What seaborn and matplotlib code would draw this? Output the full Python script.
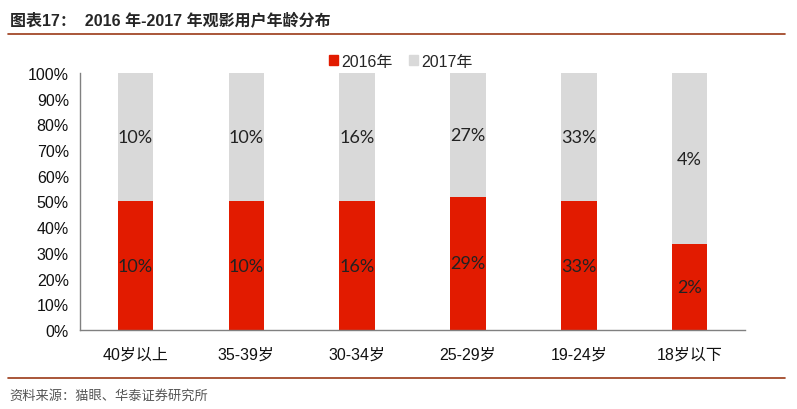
import matplotlib
matplotlib.use("Agg")
import matplotlib.pyplot as plt
import seaborn as sns
import pandas as pd
import numpy as np
from matplotlib.patches import Rectangle
from matplotlib.lines import Line2D

categories = ["40岁以上", "35-39岁", "30-34岁", "25-29岁", "19-24岁", "18岁以下"]
values_2016 = [10, 10, 16, 29, 33, 2]
values_2017 = [10, 10, 16, 27, 33, 4]
series_names = ["2016年", "2017年"]
yticks = [0, 10, 20, 30, 40, 50, 60, 70, 80, 90, 100]

red = "#E21B00"
gray = "#D9D9D9"

sns.set_theme(style="white")
plt.rcParams["font.family"] = ["Liberation Sans", "Noto Sans CJK SC", "DejaVu Sans"]

v16 = np.array(values_2016, float)
v17 = np.array(values_2017, float)
tot = v16 + v17
share16 = v16 / tot * 100
share_total = (v16 + v17) / tot * 100

df = pd.DataFrame({"cat": categories, "s16": share16, "tot": share_total})

fig = plt.figure(figsize=(7.97, 4.10), dpi=100)
ax = fig.add_axes([0.1004, 0.1927, 0.8344, 0.6268])

sns.barplot(data=df, x="cat", y="tot", color=gray, width=0.32, ax=ax,
            saturation=1, linewidth=0, order=categories)
sns.barplot(data=df, x="cat", y="s16", color=red, width=0.32, ax=ax,
            saturation=1, linewidth=0, order=categories)

label_font = ["Lato", "DejaVu Sans"]
for i in range(len(categories)):
    ax.text(i, share16[i] / 2, f"{values_2016[i]}%", ha="center", va="center",
            fontsize=13, color="#222222", family=label_font)
    ax.text(i, share16[i] + (share_total[i] - share16[i]) / 2, f"{values_2017[i]}%",
            ha="center", va="center", fontsize=13, color="#222222", family=label_font)

ax.set_xlim(-0.5, len(categories) - 0.5)
ax.set_ylim(0, 100)
ax.set_yticks(yticks)
ax.set_yticklabels([f"{t}%" for t in yticks])
ax.set_xticks(np.arange(len(categories) + 1) - 0.5)
ax.set_xticklabels([])
ax.set_xticks(np.arange(len(categories)), minor=True)
ax.set_xticklabels(categories, minor=True)
ax.tick_params(axis="x", which="major", length=5, width=1, color="#808080", direction="out")
ax.tick_params(axis="x", which="minor", length=0, labelsize=11.5, pad=12, labelcolor="#111111")
ax.tick_params(axis="y", length=5, width=1, color="#808080", direction="out",
               labelsize=11.5, labelcolor="#111111", pad=3)
ax.set_xlabel("")
ax.set_ylabel("")
for s in ["top", "right"]:
    ax.spines[s].set_visible(False)
for s in ["left", "bottom"]:
    ax.spines[s].set_color("#808080")
    ax.spines[s].set_linewidth(1)

handles = [Rectangle((0, 0), 1, 1, color=red), Rectangle((0, 0), 1, 1, color=gray)]
fig.legend(handles, series_names, loc="center", bbox_to_anchor=(0.503, 0.848), ncol=2,
           frameon=False, fontsize=11.5, handlelength=0.6, handleheight=0.6,
           handletextpad=0.2, columnspacing=1.0)

line_color = "#9B3A17"
fig.add_artist(Line2D([0.01, 0.985], [1 - 35 / 410] * 2, color=line_color, lw=1.2))
fig.add_artist(Line2D([0.01, 0.985], [1 - 379 / 410] * 2, color=line_color, lw=1.2))

fig.text(0.012, 1 - 20 / 410, "图表17：  2016 年-2017 年观影用户年龄分布", fontsize=11.5,
         fontweight="bold", va="center", ha="left",
         family=["Liberation Sans", "Noto Sans CJK SC"])
fig.text(0.012, 1 - 396 / 410, "资料来源：猫眼、华泰证券研究所", fontsize=9.5,
         color="#555555", va="center", ha="left", family=["Noto Sans CJK SC"])

fig.savefig("out.png", dpi=100)
